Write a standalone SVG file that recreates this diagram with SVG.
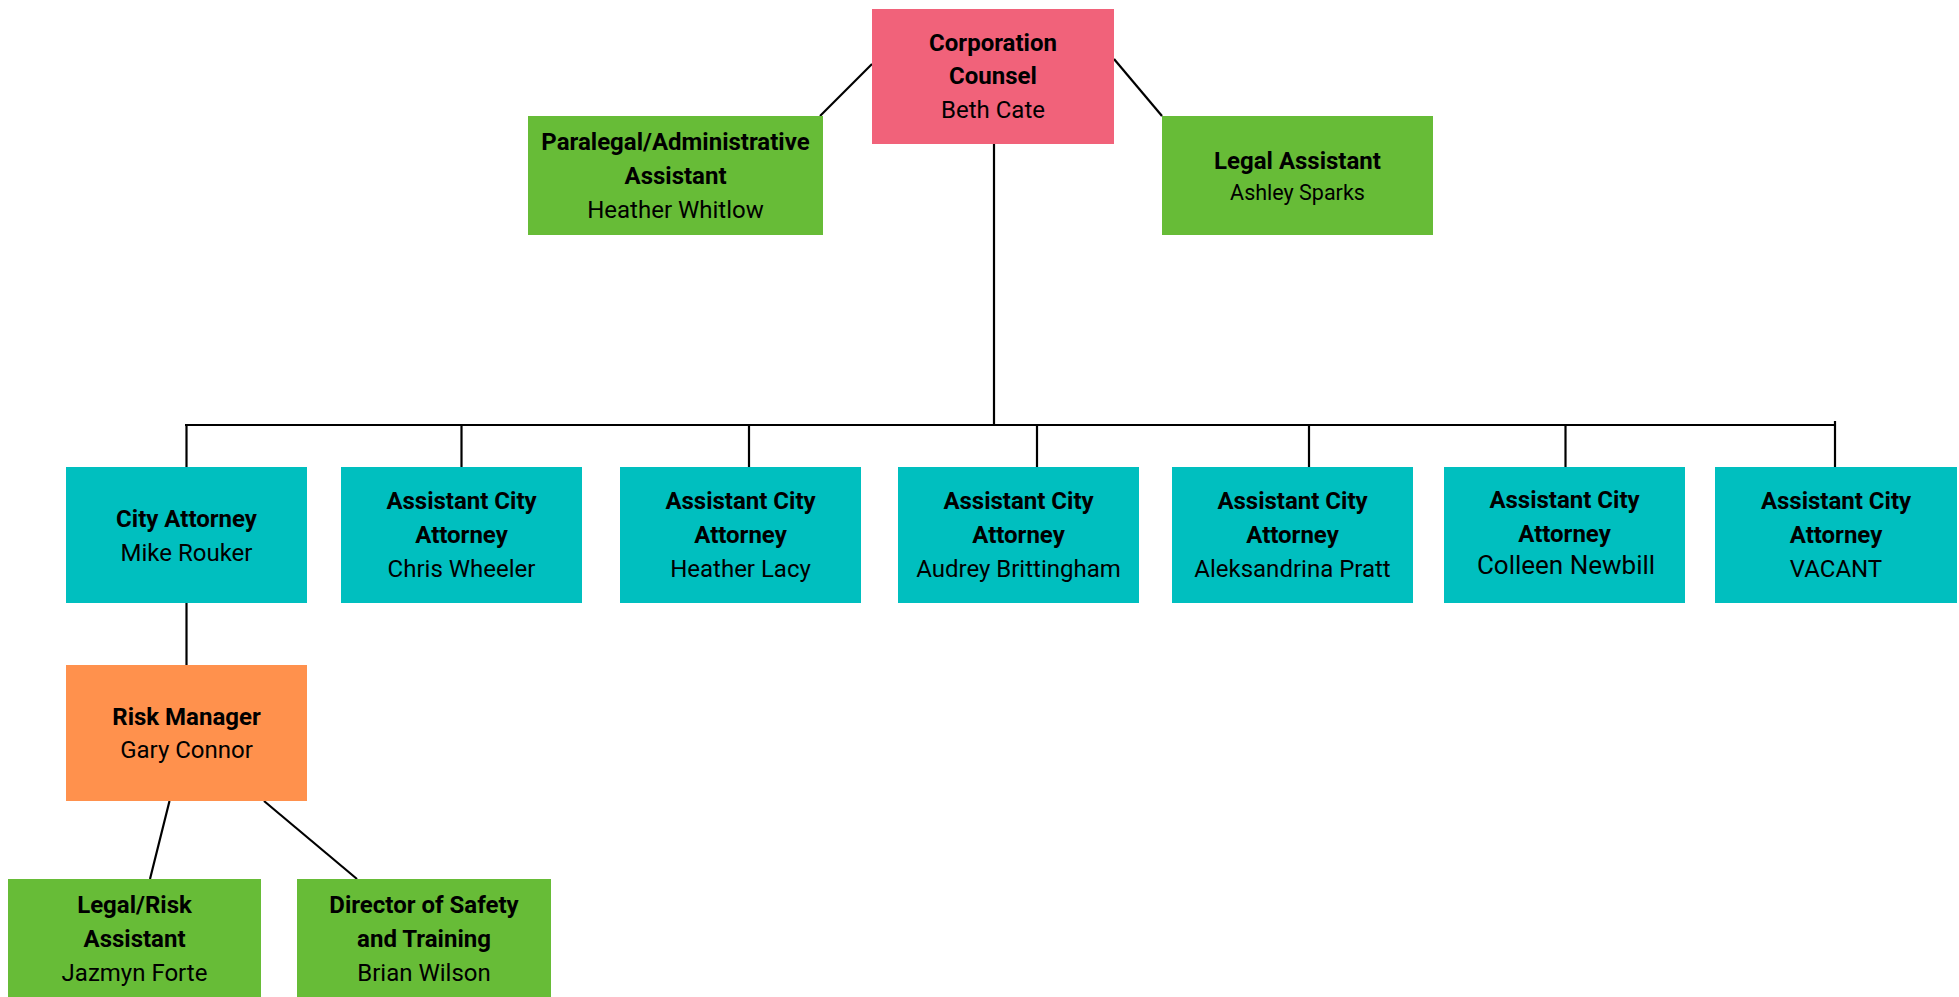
<svg xmlns="http://www.w3.org/2000/svg" width="1959" height="997" viewBox="0 0 1959 997">
<style>
.t{font-family:Roboto,"Liberation Sans",sans-serif;font-weight:700;font-size:24px;fill:#000;text-anchor:middle}
.n{font-family:Roboto,"Liberation Sans",sans-serif;font-weight:400;font-size:24px;fill:#000;text-anchor:middle}
.pink{fill:#F1627A}.green{fill:#67BC37}.teal{fill:#00BFBF}.orange{fill:#FF914D}
.c line{stroke:#000;stroke-width:2.2;fill:none}
</style>
<rect width="1959" height="997" fill="#fff"/>
<g class="c" id="connectors">
<line x1="820" y1="116" x2="872" y2="64"/>
<line x1="1114" y1="59" x2="1162" y2="116"/>
<line x1="994" y1="144" x2="994" y2="425"/>
<line x1="185" y1="425" x2="1834" y2="425"/>
<line x1="186.5" y1="425" x2="186.5" y2="467"/>
<line x1="461.5" y1="425" x2="461.5" y2="467"/>
<line x1="749" y1="425" x2="749" y2="467"/>
<line x1="1037" y1="425" x2="1037" y2="467"/>
<line x1="1309" y1="425" x2="1309" y2="467"/>
<line x1="1565.5" y1="425" x2="1565.5" y2="467"/>
<line x1="1835" y1="421" x2="1835" y2="467"/>
<line x1="186.5" y1="603" x2="186.5" y2="665"/>
<line x1="169.5" y1="801" x2="150" y2="879"/>
<line x1="264" y1="801" x2="357" y2="879"/>
</g>
<g id="corporation-counsel"><rect class="pink" x="872" y="9" width="242" height="135"/>
<text class="t" x="993" y="51">Corporation</text><text class="t" x="993" y="84">Counsel</text><text class="n" x="993" y="118">Beth Cate</text></g>
<g id="paralegal"><rect class="green" x="528" y="116" width="295" height="119"/>
<text class="t" x="675.5" y="150">Paralegal/Administrative</text><text class="t" x="675.5" y="184">Assistant</text><text class="n" x="675.5" y="218">Heather Whitlow</text></g>
<g id="legal-assistant"><rect class="green" x="1162" y="116" width="271" height="119"/>
<text class="t" x="1297.5" y="169">Legal Assistant</text><text class="n" x="1297.5" y="200" style="font-size:21.5px">Ashley Sparks</text></g>
<g id="city-attorney"><rect class="teal" x="66" y="467" width="241" height="136"/>
<text class="t" x="186.5" y="527">City Attorney</text><text class="n" x="186.5" y="561">Mike Rouker</text></g>
<g id="aca-chris"><rect class="teal" x="341" y="467" width="241" height="136"/>
<text class="t" x="461.5" y="509">Assistant City</text><text class="t" x="461.5" y="543">Attorney</text><text class="n" x="461.5" y="577">Chris Wheeler</text></g>
<g id="aca-heather"><rect class="teal" x="620" y="467" width="241" height="136"/>
<text class="t" x="740.5" y="509">Assistant City</text><text class="t" x="740.5" y="543">Attorney</text><text class="n" x="740.5" y="577">Heather Lacy</text></g>
<g id="aca-audrey"><rect class="teal" x="898" y="467" width="241" height="136"/>
<text class="t" x="1018.5" y="509">Assistant City</text><text class="t" x="1018.5" y="543">Attorney</text><text class="n" x="1018.5" y="577">Audrey Brittingham</text></g>
<g id="aca-aleksandrina"><rect class="teal" x="1172" y="467" width="241" height="136"/>
<text class="t" x="1292.5" y="509">Assistant City</text><text class="t" x="1292.5" y="543">Attorney</text><text class="n" x="1292.5" y="577">Aleksandrina Pratt</text></g>
<g id="aca-colleen"><rect class="teal" x="1444" y="467" width="241" height="136"/>
<text class="t" x="1564.5" y="508">Assistant City</text><text class="t" x="1564.5" y="542">Attorney</text><text class="n" x="1566" y="574" style="font-size:26px">Colleen Newbill</text></g>
<g id="aca-vacant"><rect class="teal" x="1715" y="467" width="242" height="136"/>
<text class="t" x="1836" y="509">Assistant City</text><text class="t" x="1836" y="543">Attorney</text><text class="n" x="1836" y="577">VACANT</text></g>
<g id="risk-manager"><rect class="orange" x="66" y="665" width="241" height="136"/>
<text class="t" x="186.5" y="725">Risk Manager</text><text class="n" x="186.5" y="758">Gary Connor</text></g>
<g id="legal-risk-assistant"><rect class="green" x="8" y="879" width="253" height="118"/>
<text class="t" x="134.5" y="913">Legal/Risk</text><text class="t" x="134.5" y="947">Assistant</text><text class="n" x="134.5" y="981">Jazmyn Forte</text></g>
<g id="director-safety"><rect class="green" x="297" y="879" width="254" height="118"/>
<text class="t" x="424" y="913">Director of Safety</text><text class="t" x="424" y="947">and Training</text><text class="n" x="424" y="981">Brian Wilson</text></g>
</svg>
